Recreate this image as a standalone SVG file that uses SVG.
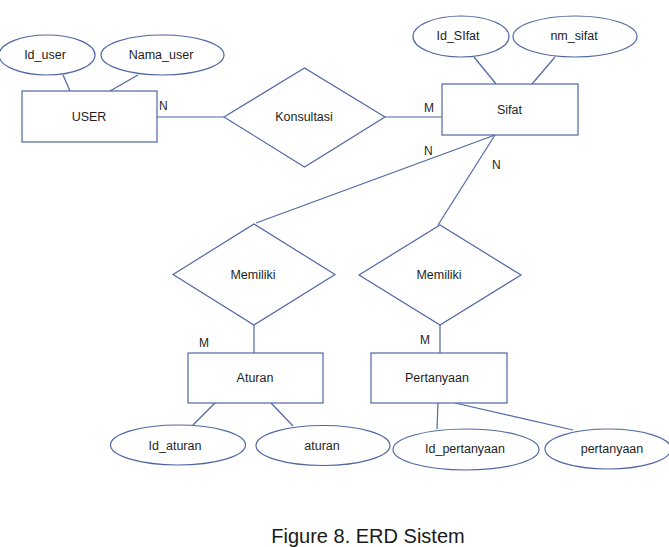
<svg xmlns="http://www.w3.org/2000/svg" width="669" height="547" viewBox="0 0 669 547">
<style>
.s{fill:#ffffff;stroke:#4f67a3;stroke-width:1.2}
.c line{stroke:#4f67a3;stroke-width:1.2}
text{font-family:"Liberation Sans",Arial,sans-serif;font-size:12.5px;fill:#1e1e1e;text-anchor:middle}
.card{text-anchor:start;font-size:12px}
.cap{font-size:20px;fill:#1a1a1a}
</style>
<rect width="669" height="547" fill="#ffffff"/>
<g id="connectors" class="c">
<line x1="63" y1="75" x2="70" y2="91"/>
<line x1="138" y1="75" x2="110" y2="91"/>
<line x1="157" y1="117" x2="224" y2="117"/>
<line x1="385" y1="117" x2="442" y2="117"/>
<line x1="474" y1="57" x2="496" y2="84"/>
<line x1="555" y1="57" x2="532" y2="84"/>
<line x1="495" y1="135" x2="256" y2="223"/>
<line x1="495" y1="135" x2="438" y2="225"/>
<line x1="254" y1="325" x2="254" y2="353"/>
<line x1="440" y1="325" x2="440" y2="353"/>
<line x1="215" y1="403" x2="193" y2="425"/>
<line x1="271" y1="403" x2="293" y2="426"/>
<line x1="438" y1="403" x2="437" y2="429"/>
<line x1="455" y1="403" x2="573" y2="430"/>
</g>
<g id="cardinalities">
<text class="card" x="159" y="110">N</text>
<text class="card" x="424" y="112">M</text>
<text class="card" x="424" y="155">N</text>
<text class="card" x="492" y="169">N</text>
<text class="card" x="199" y="347">M</text>
<text class="card" x="420" y="344">M</text>
</g>
<g id="id_user"><ellipse class="s" cx="47" cy="55" rx="48" ry="20"/><text x="45" y="59">Id_user</text></g>
<g id="nama_user"><ellipse class="s" cx="162.5" cy="55" rx="61.5" ry="20"/><text x="161" y="59">Nama_user</text></g>
<g id="user"><rect class="s" x="22" y="91" width="135" height="51"/><text x="89" y="121">USER</text></g>
<g id="konsultasi"><polygon class="s" points="224,117 304.5,68 385,117 304.5,167"/><text x="304" y="121">Konsultasi</text></g>
<g id="id_sifat"><ellipse class="s" cx="461" cy="36.5" rx="48" ry="20.5"/><text x="458" y="40">Id_SIfat</text></g>
<g id="nm_sifat"><ellipse class="s" cx="575" cy="36.5" rx="62" ry="20.5"/><text x="574" y="40">nm_sifat</text></g>
<g id="sifat"><rect class="s" x="442" y="84" width="136" height="51"/><text x="509.5" y="114">Sifat</text></g>
<g id="memiliki1"><polygon class="s" points="173,274.5 254,224 335,274.5 254,325"/><text x="253" y="279">Memiliki</text></g>
<g id="memiliki2"><polygon class="s" points="359,275 440,225 521,275 440,325"/><text x="439" y="279">Memiliki</text></g>
<g id="aturan_entity"><rect class="s" x="188" y="353" width="135" height="50"/><text x="255" y="382">Aturan</text></g>
<g id="pertanyaan_entity"><rect class="s" x="371" y="353" width="136" height="50"/><text x="437" y="382">Pertanyaan</text></g>
<g id="id_aturan"><ellipse class="s" cx="178" cy="445" rx="67.5" ry="20"/><text x="175" y="450">Id_aturan</text></g>
<g id="aturan_attr"><ellipse class="s" cx="323" cy="445.5" rx="67" ry="20"/><text x="322" y="450">aturan</text></g>
<g id="id_pertanyaan"><ellipse class="s" cx="466" cy="449.5" rx="73" ry="20.5"/><text x="465" y="453">Id_pertanyaan</text></g>
<g id="pertanyaan_attr"><ellipse class="s" cx="608" cy="449" rx="63" ry="20"/><text x="612" y="453">pertanyaan</text></g>
<text class="cap" x="368" y="543">Figure 8. ERD Sistem</text>
</svg>
